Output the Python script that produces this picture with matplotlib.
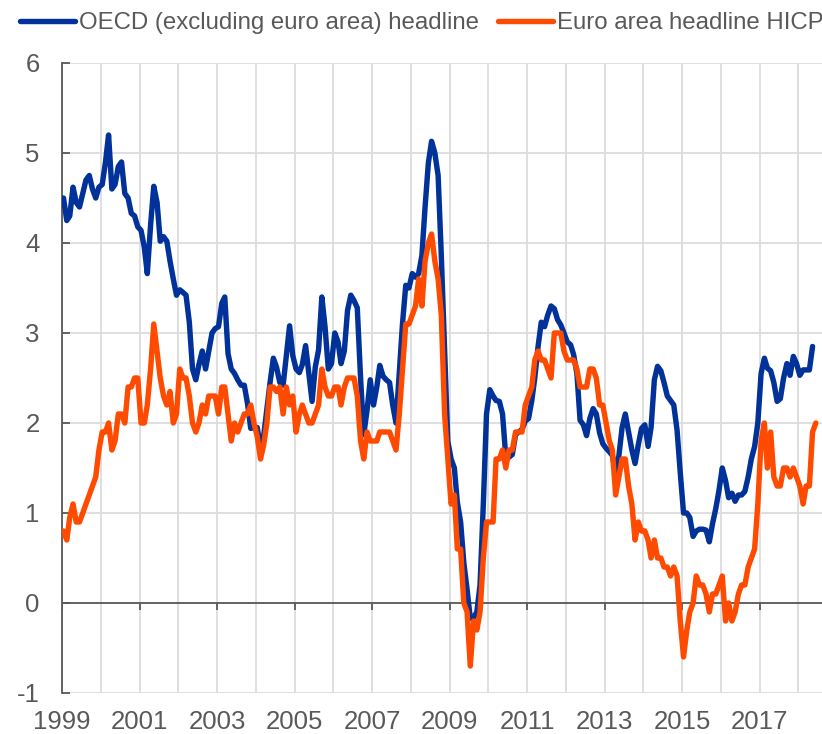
import matplotlib
matplotlib.use("Agg")
import matplotlib.pyplot as plt
import pandas as pd

plt.rcParams['font.family'] = ['Liberation Sans', 'DejaVu Sans']
plt.rcParams['axes.unicode_minus'] = False

## datos mensuales, enero 1999 en adelante (% interanual)
oecd_1999 = [4.50, 4.25, 4.30, 4.62, 4.45, 4.40, 4.55, 4.70, 4.75, 4.60, 4.50, 4.62]
oecd_2000 = [4.65, 4.90, 5.20, 4.60, 4.65, 4.85, 4.90, 4.55, 4.50, 4.33, 4.30, 4.18]
oecd_2001 = [4.14, 3.95, 3.66, 4.20, 4.63, 4.45, 4.02, 4.07, 4.02, 3.80, 3.60, 3.42]
oecd_2002 = [3.48, 3.45, 3.42, 3.12, 2.60, 2.48, 2.65, 2.80, 2.60, 2.80, 3.00, 3.05]
oecd_2003 = [3.07, 3.33, 3.40, 2.77, 2.60, 2.55, 2.48, 2.42, 2.42, 2.22, 1.94, 1.95]
oecd_2004 = [1.95, 1.72, 1.85, 2.15, 2.45, 2.72, 2.62, 2.45, 2.42, 2.75, 3.08, 2.75]
oecd_2005 = [2.60, 2.56, 2.65, 2.86, 2.55, 2.24, 2.62, 2.81, 3.40, 3.07, 2.60, 2.66]
oecd_2006 = [3.00, 2.90, 2.66, 2.80, 3.25, 3.42, 3.36, 3.28, 2.50, 1.87, 2.14, 2.48]
oecd_2007 = [2.20, 2.40, 2.64, 2.52, 2.48, 2.45, 2.20, 2.00, 2.55, 3.10, 3.53, 3.50]
oecd_2008 = [3.66, 3.62, 3.66, 3.86, 4.40, 4.89, 5.13, 5.00, 4.75, 3.86, 2.80, 1.80]
oecd_2009 = [1.60, 1.50, 1.12, 0.90, 0.45, 0.15, -0.17, -0.16, -0.10, 0.20, 1.10, 2.10]
oecd_2010 = [2.37, 2.30, 2.25, 2.24, 2.10, 1.62, 1.62, 1.65, 1.87, 1.90, 1.93, 2.02]
oecd_2011 = [2.05, 2.25, 2.50, 2.85, 3.12, 3.07, 3.20, 3.30, 3.27, 3.15, 3.09, 3.00]
oecd_2012 = [2.90, 2.87, 2.76, 2.55, 2.03, 1.98, 1.86, 2.05, 2.16, 2.10, 1.89, 1.77]
oecd_2013 = [1.72, 1.68, 1.64, 1.44, 1.63, 1.95, 2.10, 1.90, 1.70, 1.55, 1.76, 1.94]
oecd_2014 = [1.98, 1.74, 1.95, 2.48, 2.63, 2.58, 2.45, 2.30, 2.25, 2.20, 1.92, 1.45]
oecd_2015 = [1.00, 1.00, 0.95, 0.74, 0.80, 0.82, 0.82, 0.81, 0.68, 0.88, 1.05, 1.25]
oecd_2016 = [1.50, 1.36, 1.17, 1.22, 1.13, 1.20, 1.20, 1.24, 1.40, 1.60, 1.74, 2.00]
oecd_2017 = [2.55, 2.72, 2.61, 2.58, 2.45, 2.24, 2.27, 2.50, 2.66, 2.53, 2.74, 2.66]
oecd_2018 = [2.53, 2.59, 2.59, 2.59, 2.85]

euro_1999 = [0.8, 0.7, 0.95, 1.1, 0.9, 0.9, 1.0, 1.1, 1.2, 1.3, 1.4, 1.7]
euro_2000 = [1.9, 1.9, 2.0, 1.7, 1.8, 2.1, 2.1, 2.0, 2.4, 2.4, 2.5, 2.5]
euro_2001 = [2.0, 2.0, 2.2, 2.6, 3.1, 2.8, 2.5, 2.3, 2.2, 2.35, 2.0, 2.1]
euro_2002 = [2.6, 2.5, 2.5, 2.3, 2.0, 1.9, 2.0, 2.2, 2.1, 2.3, 2.3, 2.3]
euro_2003 = [2.1, 2.4, 2.4, 2.1, 1.8, 2.0, 1.9, 2.0, 2.1, 2.1, 2.2, 2.0]
euro_2004 = [1.85, 1.6, 1.75, 2.0, 2.4, 2.4, 2.35, 2.4, 2.1, 2.4, 2.2, 2.3]
euro_2005 = [1.9, 2.1, 2.2, 2.1, 2.0, 2.0, 2.1, 2.2, 2.6, 2.4, 2.3, 2.3]
euro_2006 = [2.4, 2.4, 2.2, 2.4, 2.5, 2.5, 2.5, 2.3, 1.8, 1.6, 1.9, 1.8]
euro_2007 = [1.8, 1.8, 1.9, 1.9, 1.9, 1.9, 1.8, 1.7, 2.1, 2.6, 3.1, 3.1]
euro_2008 = [3.2, 3.3, 3.6, 3.3, 3.8, 4.0, 4.1, 3.8, 3.6, 3.2, 2.1, 1.6]
euro_2009 = [1.1, 1.2, 0.6, 0.6, 0.0, -0.1, -0.7, -0.2, -0.3, -0.1, 0.5, 0.9]
euro_2010 = [0.9, 0.9, 1.6, 1.6, 1.7, 1.5, 1.7, 1.7, 1.9, 1.9, 1.9, 2.2]
euro_2011 = [2.3, 2.4, 2.7, 2.8, 2.7, 2.7, 2.6, 2.5, 3.0, 3.0, 3.0, 2.8]
euro_2012 = [2.7, 2.7, 2.7, 2.6, 2.4, 2.4, 2.4, 2.6, 2.6, 2.5, 2.2, 2.2]
euro_2013 = [2.0, 1.8, 1.7, 1.2, 1.4, 1.6, 1.6, 1.3, 1.1, 0.7, 0.9, 0.8]
euro_2014 = [0.8, 0.7, 0.5, 0.7, 0.5, 0.5, 0.4, 0.4, 0.3, 0.4, 0.3, -0.2]
euro_2015 = [-0.6, -0.3, -0.1, 0.0, 0.3, 0.2, 0.2, 0.1, -0.1, 0.1, 0.1, 0.2]
euro_2016 = [0.3, -0.2, 0.0, -0.2, -0.1, 0.1, 0.2, 0.2, 0.4, 0.5, 0.6, 1.1]
euro_2017 = [1.8, 2.0, 1.5, 1.9, 1.4, 1.3, 1.3, 1.5, 1.5, 1.4, 1.5, 1.4]
euro_2018 = [1.3, 1.1, 1.3, 1.3, 1.9, 2.0]

oecd = (oecd_1999 + oecd_2000 + oecd_2001 + oecd_2002 + oecd_2003 + oecd_2004 +
        oecd_2005 + oecd_2006 + oecd_2007 + oecd_2008 + oecd_2009 + oecd_2010 +
        oecd_2011 + oecd_2012 + oecd_2013 + oecd_2014 + oecd_2015 + oecd_2016 +
        oecd_2017 + oecd_2018)
euro = (euro_1999 + euro_2000 + euro_2001 + euro_2002 + euro_2003 + euro_2004 +
        euro_2005 + euro_2006 + euro_2007 + euro_2008 + euro_2009 + euro_2010 +
        euro_2011 + euro_2012 + euro_2013 + euro_2014 + euro_2015 + euro_2016 +
        euro_2017 + euro_2018)

series_names = ['OECD (excluding euro area) headline', 'Euro area headline HICP']
years = list(range(1999, 2019))
label_years = list(range(1999, 2018, 2))
y_ticks = [-1, 0, 1, 2, 3, 4, 5, 6]

## fechas a mitad de mes
fechas_oecd = pd.date_range('1999-01-01', periods=len(oecd), freq='MS') + pd.Timedelta(days=14)
fechas_euro = pd.date_range('1999-01-01', periods=len(euro), freq='MS') + pd.Timedelta(days=14)

gris = '#595959'
azul = '#003299'
naranja = '#ff4b00'

fig = plt.figure(figsize=(8.22, 7.34), dpi=100)
ax = fig.add_axes([62 / 822, 1 - 693 / 734, 1 - 62 / 822, (693 - 63) / 734])

ax.plot(fechas_oecd, oecd, color=azul, lw=3.9, solid_capstyle='round',
        solid_joinstyle='round', label=series_names[0], zorder=4)
ax.plot(fechas_euro, euro, color=naranja, lw=3.9, solid_capstyle='round',
        solid_joinstyle='round', label=series_names[1], zorder=5)

ax.set_ylim(-1, 6)
ax.set_yticks(y_ticks)
ax.set_xlim(pd.Timestamp('1999-01-01'), pd.Timestamp('2018-08-12'))

fechas_anio = pd.to_datetime([f'{a}-01-01' for a in years])
ax.set_xticks(fechas_anio)
ax.set_xticklabels([str(a) if a in label_years else '' for a in years])

ax.grid(True, color='#dcdcdc', lw=1.3)
ax.set_axisbelow(True)

for lado in ['top', 'right', 'bottom']:
    ax.spines[lado].set_visible(False)
ax.spines['left'].set_color(gris)
ax.spines['left'].set_linewidth(1.3)

## linea del cero con sus marcas
ax.axhline(0, color=gris, lw=1.3, zorder=3)
fechas_marca = pd.to_datetime([f'{a}-01-01' for a in label_years])
ax.vlines(fechas_marca, -0.08, 0, color=gris, lw=1.3, zorder=3)

ax.tick_params(axis='x', length=0, pad=12.5, labelsize=18.5, labelcolor=gris)
ax.tick_params(axis='y', direction='in', length=6, width=1.3, color=gris,
               pad=16, labelsize=18.5, labelcolor=gris)

fig.legend(loc='center left', bbox_to_anchor=(20 / 822, 1 - 23 / 734), ncol=2,
           frameon=False, fontsize=17.3, labelcolor=gris, handlelength=2.3,
           handletextpad=0.15, columnspacing=0.8, borderpad=0, borderaxespad=0)

plt.savefig('out.png', dpi=100)
